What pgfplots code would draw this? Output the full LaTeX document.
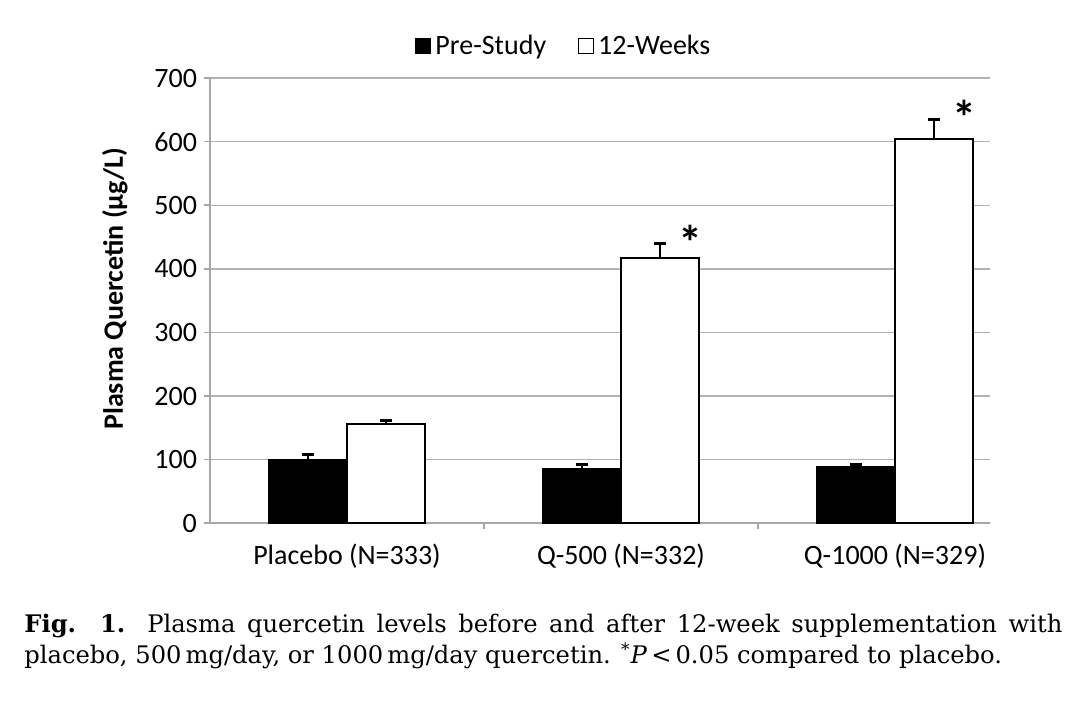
\documentclass[border=0pt]{standalone}
\usepackage{fontspec}
\setmainfont{Carlito}
\newfontfamily\capfont{DejaVu Serif}
\usepackage{pgfplots}
\pgfplotsset{compat=1.18}

\begin{document}
\begin{tikzpicture}
\path[use as bounding box] (0,0) rectangle (540pt,357.5pt);
\begin{axis}[
  at={(105pt,95.85pt)}, anchor=south west,
  scale only axis, width=390pt, height=222.6pt,
  ybar=0pt, bar width=0.285,
  xmin=-0.5, xmax=2.347,
  ymin=0, ymax=700, ytick={0,100,...,700},
  xtick={0,1,2},
  xticklabels={Placebo (N=333), Q-500 (N=332), Q-1000 (N=329)},
  minor xtick={0.5,1.5},
  axis x line*=bottom, axis y line*=left,
  axis line style={-, gray!70, line width=0.8pt},
  tick align=outside,
  major tick length=3pt, minor tick length=3pt,
  major x tick style={draw=none},
  ytick style={gray!70, line width=0.8pt},
  minor tick style={gray!70, line width=0.8pt},
  ymajorgrids, grid style={gray!60, line width=0.75pt},
  tick label style={font=\fontsize{14pt}{16pt}\selectfont},
  xticklabel style={yshift=-4pt},
  /pgf/number format/assume math mode=true,
  ylabel={\bfseries Plasma Quercetin (µg/L)},
  ylabel style={font=\fontsize{14pt}{16pt}\selectfont, at={(axis description cs:-0.122,0.527)}, anchor=center},
  legend style={at={(0.455,1.072)}, anchor=center, draw=none, fill=none,
    legend columns=2, font=\fontsize{14pt}{16pt}\selectfont,
    /tikz/every even column/.append style={column sep=14pt}},
  legend image code/.code={\draw[#1, draw=black, line width=0.6pt] (0pt,-3.6pt) rectangle (7.4pt,3.8pt);},
  error bars/y dir=plus, error bars/y explicit,
  error bars/error bar style={black, line width=1.4pt},
  error bars/error mark options={black, rotate=90, mark size=3pt, line width=1.4pt},
]
\addplot[fill=black, draw=black, line width=0.8pt] coordinates {
  (0,100) +- (0,8)
  (1,85)  +- (0,7)
  (2,89)  +- (0,4)
};
\addplot[fill=white, draw=black, line width=0.8pt] coordinates {
  (0,156) +- (0,6)
  (1,417) +- (0,23)
  (2,604) +- (0,31)
};
\legend{Pre-Study, 12-Weeks}
\node[font=\bfseries\fontsize{24pt}{24pt}\selectfont, inner sep=0pt] at (axis cs:1.252,442) {*};
\node[font=\bfseries\fontsize{24pt}{24pt}\selectfont, inner sep=0pt] at (axis cs:2.255,638) {*};
\end{axis}
\node[anchor=north west, inner sep=0pt, text width=519pt, align=justify,
  font=\capfont\fontsize{12.1pt}{15.5pt}\selectfont] at (12pt,50.5pt)
  {\textbf{Fig. 1.} Plasma quercetin levels before and after 12-week supplementation with\linebreak
   placebo, 500\,mg/day, or 1000\,mg/day quercetin. \textsuperscript{*}\textit{P}\,<\,0.05 compared to placebo.};
\end{tikzpicture}
\end{document}
